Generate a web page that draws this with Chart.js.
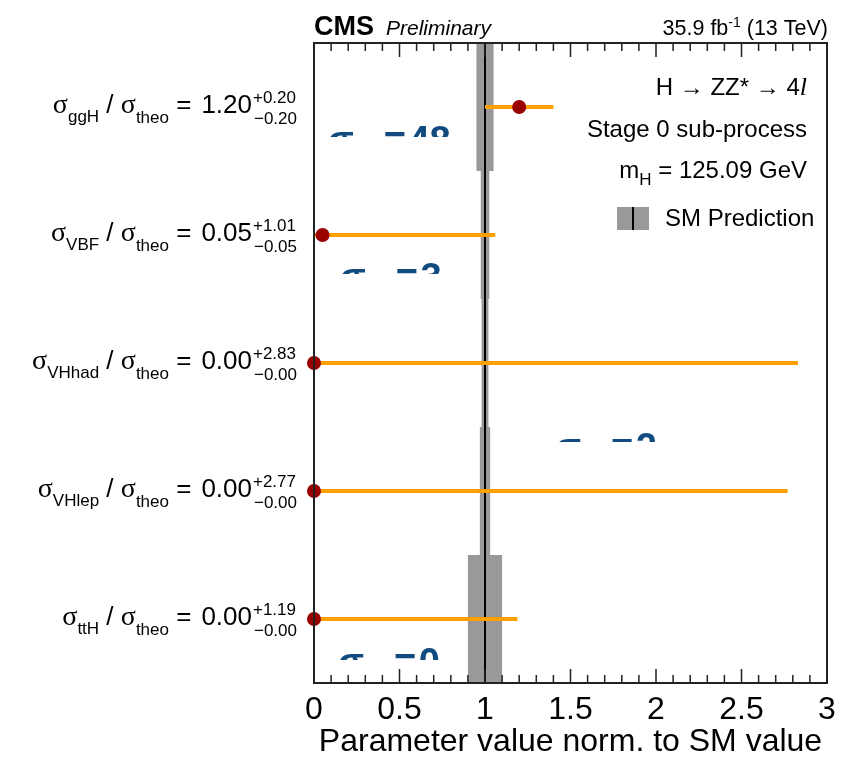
<!DOCTYPE html>
<html>
<head>
<meta charset="utf-8">
<script src="https://cdn.jsdelivr.net/npm/chart.js@4/dist/chart.umd.min.js"></script>
<style>
  html, body { margin: 0; padding: 0; background: #fff; }
  canvas { display: block; }
</style>
</head>
<body>
<canvas id="chart" width="841" height="758"></canvas>
<script>
// Stage 0 signal-strength fits, H -> ZZ* -> 4l
const processes   = ['ggH', 'VBF', 'VHhad', 'VHlep', 'ttH'];
const bestFit     = [1.20, 0.05, 0.00, 0.00, 0.00];
const errUp       = [0.20, 1.01, 2.83, 2.77, 1.19];
const errDown     = [0.20, 0.05, 0.00, 0.00, 0.00];
const smValue     = 1;
const smUncert    = [0.05, 0.025, 0.02, 0.03, 0.10];
const xTickValues = [0, 0.5, 1, 1.5, 2, 2.5, 3];

// Partially hidden blue cross-section boxes: row, value
const insetRows   = [0, 1, 3, 4];
const insetValues = ['48', '3', '2', '0'];

const SANS  = "'Liberation Sans', Arial, sans-serif";
const SERIF = "'Liberation Serif', 'Times New Roman', serif";
const ORANGE = '#ffa000';
const DOT = '#990000';
const BAND = '#999999';

const rowCenter = i => i + 0.5;

const datasets = [];
processes.forEach((p, i) => {
  datasets.push({
    type: 'line',
    label: p,
    data: [
      { x: bestFit[i] - errDown[i], y: rowCenter(i) },
      { x: bestFit[i] + errUp[i],   y: rowCenter(i) }
    ],
    borderColor: ORANGE,
    borderWidth: 4,
    borderCapStyle: 'butt',
    pointRadius: 0,
    clip: false,
    order: 1
  });
});
datasets.push({
  type: 'scatter',
  label: 'best fit',
  data: processes.map((p, i) => ({ x: bestFit[i], y: rowCenter(i) })),
  backgroundColor: DOT,
  borderWidth: 0,
  pointRadius: 7,
  clip: false,
  order: 0
});

function textW(ctx, font, t) { ctx.font = font; return ctx.measureText(t).width; }

// SM prediction bands, SM line and the half-hidden inset boxes
const underlay = {
  id: 'underlay',
  beforeDatasetsDraw(chart) {
    const { ctx, chartArea: a, scales: { x, y } } = chart;
    ctx.save();
    // inset texts, cut off at their box edge
    const insetPos = [
      { x: 0.08,  top: 0.648, clip: 0.735 },
      { x: 0.15,  top: 1.719, clip: 1.805 },
      { x: 1.41,  top: 3.047, clip: 3.118 },
      { x: 0.14,  top: 4.727, clip: 4.82 }
    ];
    insetRows.forEach((r, k) => {
      const pos = insetPos[k];
      const px = x.getPixelForValue(pos.x);
      const top = y.getPixelForValue(pos.top);
      const bot = y.getPixelForValue(pos.clip);
      ctx.save();
      ctx.beginPath();
      ctx.rect(px - 10, top - 20, 220, bot - top + 20);
      ctx.clip();
      ctx.fillStyle = '#124b80';
      ctx.textBaseline = 'alphabetic';
      const fs = 38;
      ctx.font = 'bold ' + fs + 'px ' + SANS;
      const base = top + 0.716 * fs;
      ctx.fillText('σ', px, base);
      const sw = ctx.measureText('σ').width;
      ctx.fillText('=', px + sw + 30, base);
      const ew = ctx.measureText('= ').width;
      ctx.fillText(insetValues[k], px + sw + 30 + ew - 8, base);
      ctx.restore();
    });
    // SM uncertainty band per row
    ctx.fillStyle = BAND;
    processes.forEach((p, i) => {
      const x0 = x.getPixelForValue(smValue - smUncert[i]);
      const x1 = x.getPixelForValue(smValue + smUncert[i]);
      const y0 = y.getPixelForValue(i);
      const y1 = y.getPixelForValue(i + 1);
      ctx.fillRect(x0, y0, x1 - x0, y1 - y0);
    });
    // SM central value
    const xs = x.getPixelForValue(smValue);
    ctx.strokeStyle = '#000';
    ctx.lineWidth = 2;
    ctx.beginPath();
    ctx.moveTo(xs, a.top);
    ctx.lineTo(xs, a.bottom);
    ctx.stroke();
    ctx.restore();
  }
};

// Frame, inward ticks, row labels, legend and header
const overlay = {
  id: 'overlay',
  afterDraw(chart) {
    const { ctx, chartArea: a, scales: { x, y } } = chart;
    ctx.save();
    // frame
    ctx.strokeStyle = '#222';
    ctx.lineWidth = 2;
    ctx.strokeRect(a.left, a.top, a.right - a.left, a.bottom - a.top);
    // minor and major ticks, bottom and top
    ctx.lineWidth = 1.5;
    for (let k = 1; k < 30; k++) {
      const px = x.getPixelForValue(k / 10);
      const len = (k % 5 === 0) ? 14 : 8;
      ctx.beginPath();
      ctx.moveTo(px, a.bottom); ctx.lineTo(px, a.bottom - len);
      ctx.moveTo(px, a.top);    ctx.lineTo(px, a.top + len);
      ctx.stroke();
    }

    ctx.fillStyle = '#000';
    ctx.textBaseline = 'alphabetic';
    const MAIN = '26px ' + SANS;
    const SUB = '17px ' + SANS;
    const SIG = '28px ' + SERIF;

    // row labels: sigma_proc / sigma_theo = value^{+up}_{-down}
    processes.forEach((p, i) => {
      const yc = y.getPixelForValue(rowCenter(i));
      const base = yc + 6;
      const up = '+' + errUp[i].toFixed(2);
      const dn = '\u2212' + errDown[i].toFixed(2);
      const parts = [
        { t: 'σ', f: SIG, dy: 0 },
        { t: p, f: SUB, dy: 9 },
        { t: ' / ', f: MAIN, dy: 0 },
        { t: 'σ', f: SIG, dy: 0 },
        { t: 'theo', f: SUB, dy: 10 },
        { t: ' =', f: MAIN, dy: 0, after: 10 },
        { t: bestFit[i].toFixed(2), f: MAIN, dy: 0 }
      ];
      let total = 0;
      parts.forEach(q => { q.w = textW(ctx, q.f, q.t) + (q.after || 0); total += q.w; });
      const scriptW = Math.max(textW(ctx, SUB, up), textW(ctx, SUB, dn));
      total += scriptW;
      let cx = 295 - total;
      parts.forEach(q => {
        ctx.font = q.f;
        ctx.fillText(q.t, cx, base + q.dy);
        cx += q.w;
      });
      ctx.font = SUB;
      ctx.fillText(up, cx + 1, base - 10);
      ctx.fillText(dn, cx + 2, base + 11);
    });

    // header
    ctx.font = 'bold 27px ' + SANS;
    ctx.textAlign = 'left';
    ctx.fillText('CMS', a.left, 35);
    ctx.font = 'italic 21px ' + SANS;
    ctx.fillText('Preliminary', a.left + 72, 35);
    {
      const f = '21.5px ' + SANS, fs = '14px ' + SANS;
      const t1 = '35.9 fb', t2 = '-1', t3 = ' (13 TeV)';
      const w1 = textW(ctx, f, t1), w2 = textW(ctx, fs, t2), w3 = textW(ctx, f, t3);
      let lx = a.right + 1 - (w1 + w2 + w3);
      ctx.font = f; ctx.fillText(t1, lx, 35); lx += w1;
      ctx.font = fs; ctx.fillText(t2, lx, 27); lx += w2;
      ctx.font = f; ctx.fillText(t3, lx, 35);
    }

    // legend block
    const LEG = '24px ' + SANS;
    const rightX = 807;
    {
      const tA = 'H \u2192 ZZ* \u2192 4';
      const fl = 'italic 26px ' + SERIF;
      const wl = textW(ctx, fl, 'l');
      const wA = textW(ctx, LEG, tA);
      ctx.font = LEG; ctx.fillText(tA, rightX - wl - wA, 95);
      ctx.font = fl; ctx.fillText('l', rightX - wl, 95);
    }
    ctx.font = LEG;
    ctx.textAlign = 'right';
    ctx.fillText('Stage 0 sub-process', rightX, 137);
    {
      const t1 = 'm', t2 = 'H', t3 = ' = 125.09 GeV';
      const w1 = textW(ctx, LEG, t1), w2 = textW(ctx, SUB, t2), w3 = textW(ctx, LEG, t3);
      ctx.textAlign = 'left';
      let lx = rightX - (w1 + w2 + w3);
      ctx.font = LEG; ctx.fillText(t1, lx, 178); lx += w1;
      ctx.font = SUB; ctx.fillText(t2, lx, 185); lx += w2;
      ctx.font = LEG; ctx.fillText(t3, lx, 178);
    }
    ctx.fillStyle = BAND;
    ctx.fillRect(617, 207, 32, 23);
    ctx.strokeStyle = '#000';
    ctx.lineWidth = 2;
    ctx.beginPath(); ctx.moveTo(633, 207); ctx.lineTo(633, 230); ctx.stroke();
    ctx.fillStyle = '#000';
    ctx.font = LEG;
    ctx.textAlign = 'left';
    ctx.fillText('SM Prediction', 665, 226);
    ctx.restore();
  }
};

new Chart(document.getElementById('chart'), {
  data: { datasets },
  options: {
    responsive: false,
    animation: false,
    devicePixelRatio: 1,
    layout: { padding: { left: 314, right: 14, top: 43, bottom: 0 } },
    plugins: { legend: { display: false }, tooltip: { enabled: false } },
    scales: {
      x: {
        type: 'linear',
        position: 'bottom',
        min: 0,
        max: 3,
        afterBuildTicks: s => { s.ticks = xTickValues.map(v => ({ value: v })); },
        ticks: {
          font: { family: SANS, size: 32 },
          color: '#000',
          padding: 4,
          maxRotation: 0,
          autoSkip: false,
          callback: v => String(v)
        },
        grid: { display: false, drawTicks: true, tickLength: 4 },
        border: { display: false },
        title: {
          display: true,
          text: 'Parameter value norm. to SM value',
          font: { family: SANS, size: 32, lineHeight: 1 },
          color: '#000',
          padding: 0
        },
        afterFit: s => { s.height = 75; }
      },
      y: { type: 'linear', min: 0, max: 5, reverse: true, display: false }
    }
  },
  plugins: [underlay, overlay]
});
</script>
</body>
</html>
